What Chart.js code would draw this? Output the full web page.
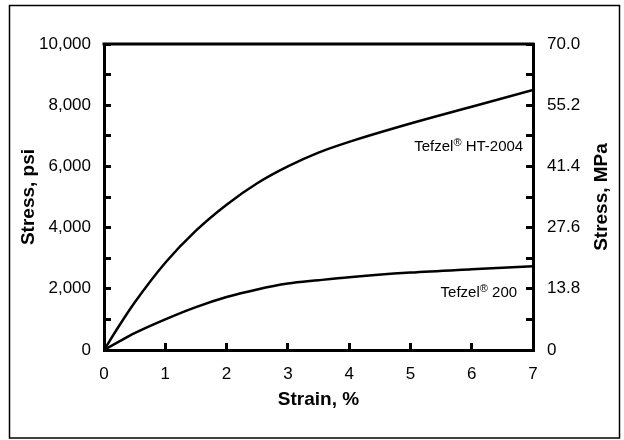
<!DOCTYPE html>
<html><head><meta charset="utf-8">
<script src="https://cdn.jsdelivr.net/npm/chart.js@4"></script>
<style>html,body{margin:0;padding:0;background:#fff}</style>
</head><body>
<canvas id="c" width="624" height="440"></canvas>
<script>
// ---- data ----
const strain = [0,0.25,0.5,1,1.5,2,2.5,3,3.5,4,5,6,7];
const stressHT2004 = [0,800,1550,2850,3900,4750,5450,6000,6450,6800,7400,7950,8500];
const stress200 = [0,280,550,1000,1400,1730,1980,2170,2280,2380,2530,2640,2740];
const psiTickLabels = ['0','2,000','4,000','6,000','8,000','10,000'];
const mpaTickLabels = ['0','13.8','27.6','41.4','55.2','70.0'];
const seriesNames = ['Tefzel® HT-2004','Tefzel® 200'];
const labelAnchorX = [6.84, 6.74];
const labelAnchorY = [6650, 1860];

const FONT = 'Arial, "Liberation Sans", sans-serif';

function pts(xs, ys){ return xs.map((x,i)=>({x:x,y:ys[i]})); }

const deco = {
  id:'deco',
  beforeDraw(chart){
    const ctx=chart.ctx; ctx.save(); ctx.fillStyle='#fff'; ctx.fillRect(0,0,chart.width,chart.height); ctx.restore();
  },
  afterDraw(chart){
    const ctx=chart.ctx, a=chart.chartArea;
    const xs=chart.scales.x, ys=chart.scales.y;
    ctx.save();
    ctx.strokeStyle='#000';
    ctx.lineWidth=1.5;
    ctx.strokeRect(9.5,5.5,610,432.5);
    ctx.lineWidth=3;
    ctx.beginPath(); ctx.moveTo(a.left-1.5,a.top); ctx.lineTo(a.right+1.5,a.top); ctx.stroke();
    // right axis title (reads bottom to top)
    ctx.fillStyle='#000';
    ctx.font='bold 19px '+FONT;
    ctx.translate(607,(a.top+a.bottom)/2);
    ctx.rotate(-Math.PI/2);
    ctx.textAlign='center'; ctx.textBaseline='alphabetic';
    ctx.fillText('Stress, MPa',0,0);
    ctx.restore();
    // series labels with superscript ®
    ctx.save();
    ctx.fillStyle='#000';
    ctx.textBaseline='middle';
    ctx.textAlign='left';
    seriesNames.forEach((name,i)=>{
      const parts=name.split('®');
      const right=xs.getPixelForValue(labelAnchorX[i]);
      const cy=ys.getPixelForValue(labelAnchorY[i]);
      ctx.font='15px '+FONT; const w1=ctx.measureText(parts[0]).width; const w3=ctx.measureText(parts[1]).width;
      ctx.font='11px '+FONT; const w2=ctx.measureText('®').width;
      let x=right-(w1+w2+w3);
      ctx.font='15px '+FONT; ctx.fillText(parts[0],x,cy); x+=w1;
      ctx.font='11px '+FONT; ctx.fillText('®',x,cy-4); x+=w2;
      ctx.font='15px '+FONT; ctx.fillText(parts[1],x,cy);
    });
    ctx.restore();
  }
};

new Chart(document.getElementById('c'),{
  type:'line',
  data:{datasets:[
    {label:seriesNames[0],data:pts(strain,stressHT2004),borderColor:'#000',borderWidth:2.5,pointRadius:0,cubicInterpolationMode:'monotone',fill:false,yAxisID:'y'},
    {label:seriesNames[1],data:pts(strain,stress200),borderColor:'#000',borderWidth:2.5,pointRadius:0,cubicInterpolationMode:'monotone',fill:false,yAxisID:'y'}
  ]},
  options:{
    responsive:false,animation:false,
    layout:{padding:{left:0,right:0,top:44,bottom:0}},
    plugins:{legend:{display:false},tooltip:{enabled:false}},
    scales:{
      x:{type:'linear',position:'bottom',min:0,max:7,
        ticks:{stepSize:1,color:'#000',font:{family:FONT,size:17},padding:21,maxRotation:0,autoSkip:false},
        grid:{drawOnChartArea:false,drawTicks:true,tickLength:-7,color:'#000',lineWidth:3},
        border:{display:true,color:'#000',width:3},
        title:{display:true,text:'Strain, %',color:'#000',font:{family:FONT,size:19,weight:'bold'},padding:{top:0,bottom:29}},
        afterFit(s){s.height=90;}
      },
      y:{type:'linear',position:'left',min:0,max:10000,
        ticks:{stepSize:1000,color:'#000',font:{family:FONT,size:17},padding:20,autoSkip:false,
          callback:(v)=> v%2000===0 ? psiTickLabels[v/2000] : ''},
        grid:{drawOnChartArea:false,drawTicks:true,tickLength:-7,color:'#000',lineWidth:3},
        border:{display:true,color:'#000',width:3},
        title:{display:true,text:'Stress, psi',color:'#000',font:{family:FONT,size:19,weight:'bold'},padding:{top:17,bottom:0}},
        afterFit(s){s.width=104;}
      },
      y2:{type:'linear',position:'right',min:0,max:10000,
        ticks:{stepSize:1000,color:'#000',font:{family:FONT,size:17},padding:21,autoSkip:false,
          callback:(v)=> v%2000===0 ? mpaTickLabels[v/2000] : ''},
        grid:{drawOnChartArea:false,drawTicks:true,tickLength:-7,color:'#000',lineWidth:3},
        border:{display:true,color:'#000',width:3},
        afterFit(s){s.width=91;}
      }
    }
  },
  plugins:[deco]
});
</script>
</body></html>
